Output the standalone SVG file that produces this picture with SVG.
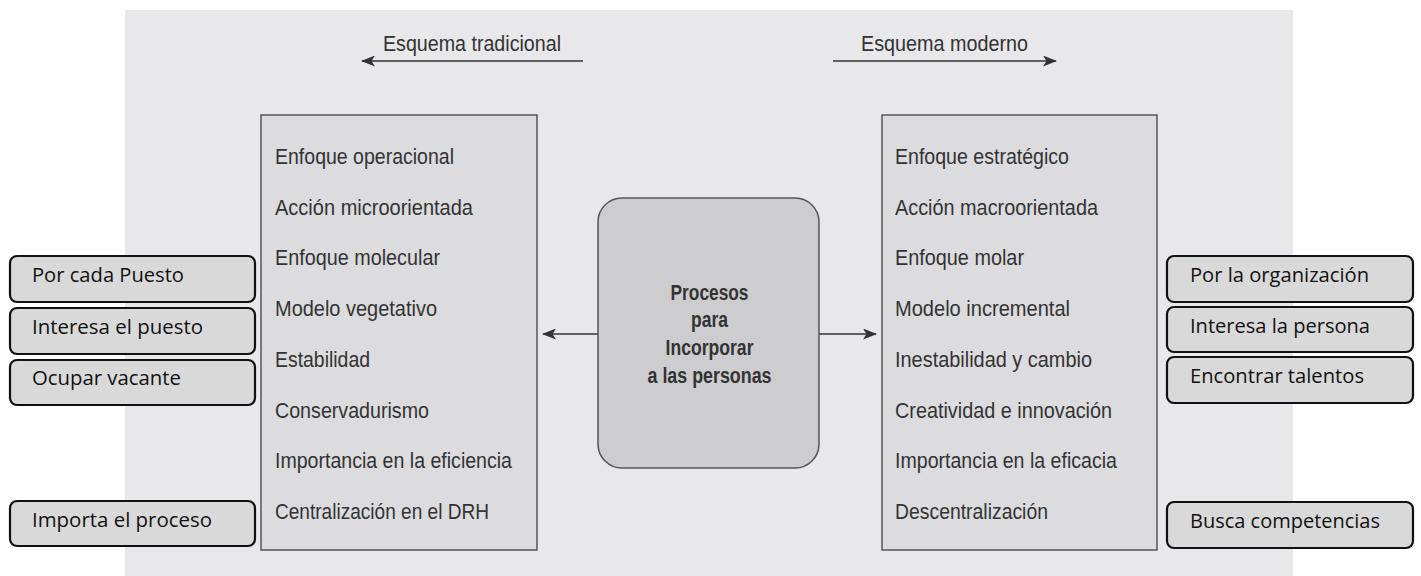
<svg xmlns="http://www.w3.org/2000/svg" width="1421" height="576" viewBox="0 0 1421 576">
<style>
.bg{fill:#e8e8ea}
.col{fill:#dcdcde;stroke:#555;stroke-width:1.5}
.ctr{fill:#cdcdcf;stroke:#555;stroke-width:1.5}
.tag{fill:#d9d9d9;stroke:#111;stroke-width:2.2}
.t{font-family:"Liberation Sans",Arial,sans-serif;font-size:21.5px;fill:#333}
.h{font-family:"Liberation Sans",Arial,sans-serif;font-size:21.5px;fill:#333}
.b{font-family:"Liberation Sans",Arial,sans-serif;font-size:22px;font-weight:bold;fill:#333;text-anchor:middle}
.s{font-family:"Open Sans","Noto Sans",sans-serif;font-size:19.5px;fill:#111}
.ln{stroke:#333;stroke-width:1.6;fill:none}
</style>
<defs>
<marker id="ah" viewBox="0 0 14 11" refX="13" refY="5.5" markerWidth="14" markerHeight="11" markerUnits="userSpaceOnUse" orient="auto">
<path d="M0,0 L14,5.5 L0,11 L3.5,5.5 Z" fill="#333"/>
</marker>
</defs>
<rect class="bg" x="125" y="10" width="1168" height="566"/>
<g id="connectors">
<line class="ln" x1="583" y1="61" x2="362" y2="61" marker-end="url(#ah)"/>
<line class="ln" x1="833" y1="61" x2="1056" y2="61" marker-end="url(#ah)"/>
<line class="ln" x1="598" y1="334" x2="543" y2="334" marker-end="url(#ah)"/>
<line class="ln" x1="819" y1="334" x2="876" y2="334" marker-end="url(#ah)"/>
</g>
<g id="header-traditional">
<text class="h" x="383" y="51" textLength="178" lengthAdjust="spacingAndGlyphs">Esquema tradicional</text>
</g>
<g id="header-modern">
<text class="h" x="861" y="51" textLength="167" lengthAdjust="spacingAndGlyphs">Esquema moderno</text>
</g>
<g id="traditional">
<rect class="col" x="261" y="115" width="276" height="435"/>
<text class="t" x="275" y="164" textLength="179" lengthAdjust="spacingAndGlyphs">Enfoque operacional</text>
<text class="t" x="275" y="215" textLength="198" lengthAdjust="spacingAndGlyphs">Acción microorientada</text>
<text class="t" x="275" y="265" textLength="165" lengthAdjust="spacingAndGlyphs">Enfoque molecular</text>
<text class="t" x="275" y="316" textLength="162" lengthAdjust="spacingAndGlyphs">Modelo vegetativo</text>
<text class="t" x="275" y="367" textLength="95" lengthAdjust="spacingAndGlyphs">Estabilidad</text>
<text class="t" x="275" y="418" textLength="154" lengthAdjust="spacingAndGlyphs">Conservadurismo</text>
<text class="t" x="275" y="468" textLength="237" lengthAdjust="spacingAndGlyphs">Importancia en la eficiencia</text>
<text class="t" x="275" y="519" textLength="214" lengthAdjust="spacingAndGlyphs">Centralización en el DRH</text>
</g>
<g id="modern">
<rect class="col" x="882" y="115" width="275" height="435"/>
<text class="t" x="895" y="164" textLength="174" lengthAdjust="spacingAndGlyphs">Enfoque estratégico</text>
<text class="t" x="895" y="215" textLength="203" lengthAdjust="spacingAndGlyphs">Acción macroorientada</text>
<text class="t" x="895" y="265" textLength="129" lengthAdjust="spacingAndGlyphs">Enfoque molar</text>
<text class="t" x="895" y="316" textLength="175" lengthAdjust="spacingAndGlyphs">Modelo incremental</text>
<text class="t" x="895" y="367" textLength="197" lengthAdjust="spacingAndGlyphs">Inestabilidad y cambio</text>
<text class="t" x="895" y="418" textLength="217" lengthAdjust="spacingAndGlyphs">Creatividad e innovación</text>
<text class="t" x="895" y="468" textLength="222" lengthAdjust="spacingAndGlyphs">Importancia en la eficacia</text>
<text class="t" x="895" y="519" textLength="153" lengthAdjust="spacingAndGlyphs">Descentralización</text>
</g>
<g id="center">
<rect class="ctr" x="598" y="198" width="221" height="270" rx="24" ry="24"/>
<text class="b" x="709.5" y="300" textLength="78" lengthAdjust="spacingAndGlyphs">Procesos</text>
<text class="b" x="709.5" y="327" textLength="37" lengthAdjust="spacingAndGlyphs">para</text>
<text class="b" x="709.5" y="355" textLength="88" lengthAdjust="spacingAndGlyphs">Incorporar</text>
<text class="b" x="709.5" y="383" textLength="124" lengthAdjust="spacingAndGlyphs">a las personas</text>
</g>
<g id="tag-por-cada-puesto">
<rect class="tag" x="10" y="256" width="245" height="46" rx="7"/>
<text class="s" x="32" y="282" textLength="152" lengthAdjust="spacingAndGlyphs">Por cada Puesto</text>
</g>
<g id="tag-interesa-el-puesto">
<rect class="tag" x="10" y="308" width="245" height="46" rx="7"/>
<text class="s" x="32" y="334" textLength="171" lengthAdjust="spacingAndGlyphs">Interesa el puesto</text>
</g>
<g id="tag-ocupar-vacante">
<rect class="tag" x="10" y="360" width="245" height="45" rx="7"/>
<text class="s" x="32" y="385" textLength="149" lengthAdjust="spacingAndGlyphs">Ocupar vacante</text>
</g>
<g id="tag-importa-el-proceso">
<rect class="tag" x="10" y="501" width="245" height="45" rx="7"/>
<text class="s" x="32" y="527" textLength="180" lengthAdjust="spacingAndGlyphs">Importa el proceso</text>
</g>
<g id="tag-por-la-organizacion">
<rect class="tag" x="1167" y="256" width="246" height="46" rx="7"/>
<text class="s" x="1190" y="282" textLength="179" lengthAdjust="spacingAndGlyphs">Por la organización</text>
</g>
<g id="tag-interesa-la-persona">
<rect class="tag" x="1167" y="307" width="246" height="45" rx="7"/>
<text class="s" x="1190" y="333" textLength="180" lengthAdjust="spacingAndGlyphs">Interesa la persona</text>
</g>
<g id="tag-encontrar-talentos">
<rect class="tag" x="1167" y="357" width="246" height="46" rx="7"/>
<text class="s" x="1190" y="383" textLength="174" lengthAdjust="spacingAndGlyphs">Encontrar talentos</text>
</g>
<g id="tag-busca-competencias">
<rect class="tag" x="1167" y="502" width="246" height="46" rx="7"/>
<text class="s" x="1190" y="528" textLength="190" lengthAdjust="spacingAndGlyphs">Busca competencias</text>
</g>
</svg>
